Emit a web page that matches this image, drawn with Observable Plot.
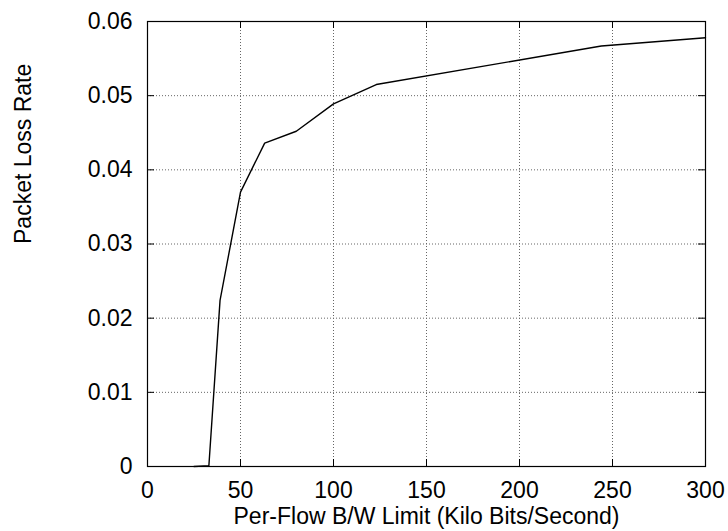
<!DOCTYPE html>
<html>
<head>
<meta charset="utf-8">
<script src="https://cdn.jsdelivr.net/npm/d3@7"></script>
<script src="https://cdn.jsdelivr.net/npm/@observablehq/plot@0.6"></script>
<style>
  html, body { margin: 0; padding: 0; background: #fff; }
</style>
</head>
<body>
<div id="chart"></div>
<script>
// Data
const bandwidth = [25, 33, 39, 50, 63, 80, 100, 123, 244, 300];
const lossRate = [0, 0.0001, 0.0224, 0.037, 0.0436, 0.0452, 0.0489, 0.0515, 0.0567, 0.0578];
const xTicks = [0, 50, 100, 150, 200, 250, 300];
const yTicks = [0, 0.01, 0.02, 0.03, 0.04, 0.05, 0.06];
const xTitle = "Per-Flow B/W Limit (Kilo Bits/Second)";
const yTitle = "Packet Loss Rate";

const data = bandwidth.map((x, i) => ({x, y: lossRate[i]}));
const xInner = xTicks.slice(1, -1);
const yInner = yTicks.slice(1, -1);

const W = 728, H = 531;
const mL = 147, mR = 23, mT = 21, mB = 65;
const plotH = H - mT - mB;
const plotW = W - mL - mR;
const tick = 7;

const chart = Plot.plot({
  width: W,
  height: H,
  marginLeft: mL,
  marginRight: mR,
  marginTop: mT,
  marginBottom: mB,
  style: {fontFamily: "'Liberation Sans', Arial, Helvetica, sans-serif", fontSize: "23px", color: "#000", background: "#fff"},
  x: {domain: [0, 300]},
  y: {domain: [0, 0.06]},
  marks: [
    Plot.gridX(xInner, {stroke: "#666", strokeOpacity: 1, strokeDasharray: "1,2"}),
    Plot.gridY(yInner, {stroke: "#666", strokeOpacity: 1, strokeDasharray: "1,2"}),
    // inward tick marks on all four sides
    Plot.tickX(xTicks, {x: d => d, insetTop: plotH - tick, stroke: "#000"}),
    Plot.tickX(xTicks, {x: d => d, insetBottom: plotH - tick, stroke: "#000"}),
    Plot.tickY(yTicks, {y: d => d, insetRight: plotW - tick, stroke: "#000"}),
    Plot.tickY(yTicks, {y: d => d, insetLeft: plotW - tick, stroke: "#000"}),
    Plot.frame({stroke: "#000", strokeWidth: 1.2}),
    Plot.axisX(xTicks, {tickSize: 0, tickPadding: 15, label: null, tickFormat: d => String(d), fontSize: 23}),
    Plot.axisY(yTicks, {tickSize: 0, tickPadding: 15, label: null, tickFormat: d => String(d), fontSize: 23}),
    Plot.line(data, {x: "x", y: "y", stroke: "#000", strokeWidth: 1.4}),
    Plot.text([xTitle], {frameAnchor: "bottom", dy: 41, lineAnchor: "top", fontSize: 23, text: d => d}),
    Plot.text([yTitle], {frameAnchor: "left", dx: -124, rotate: -90, lineAnchor: "middle", fontSize: 23, text: d => d})
  ]
});
document.getElementById("chart").appendChild(chart);
</script>
</body>
</html>
